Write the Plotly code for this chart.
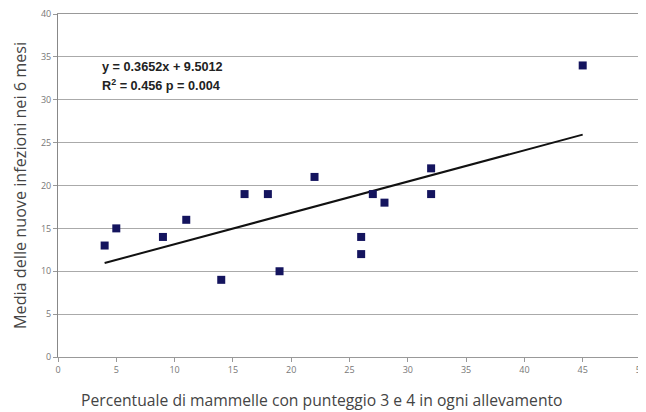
import plotly.graph_objects as go

x_vals = [4, 5, 9, 11, 14, 16, 18, 19, 22, 26, 26, 27, 28, 32, 32, 45]
y_vals = [13, 15, 14, 16, 9, 19, 19, 10, 21, 14, 12, 19, 18, 22, 19, 34]
slope = 0.3652
intercept = 9.5012
trend_x = [4, 45]
trend_y = [slope * v + intercept for v in trend_x]
x_ticks = [0, 5, 10, 15, 20, 25, 30, 35, 40, 45, 50]
y_ticks = [0, 5, 10, 15, 20, 25, 30, 35, 40]

fig = go.Figure()
fig.add_trace(go.Scatter(x=trend_x, y=trend_y, mode="lines",
                         line=dict(color="#111111", width=2), showlegend=False))
fig.add_trace(go.Scatter(x=x_vals, y=y_vals, mode="markers",
                         marker=dict(symbol="square", size=8, color="#14145e"),
                         showlegend=False))

fig.add_annotation(x=0.072, y=0.846, xref="paper", yref="paper", xanchor="left", yanchor="middle",
                   text="<b>y = 0.3652x + 9.5012</b>", showarrow=False,
                   font=dict(family="Liberation Sans", size=12.7, color="#222222"))
fig.add_annotation(x=0.072, y=0.794, xref="paper", yref="paper", xanchor="left", yanchor="middle",
                   text="<b>R<sup>2</sup> = 0.456 p = 0.004</b>", showarrow=False,
                   font=dict(family="Liberation Sans", size=12.7, color="#222222"))
fig.add_annotation(x=0.453, y=-0.125, xref="paper", yref="paper", xanchor="center", yanchor="middle",
                   text="Percentuale di mammelle con punteggio 3 e 4 in ogni allevamento",
                   showarrow=False, font=dict(family="Open Sans", size=15.7, color="#444444"))
fig.add_annotation(x=-0.066, y=0.5, xref="paper", yref="paper", xanchor="center", yanchor="middle",
                   text="Media delle nuove infezioni nei 6 mesi", textangle=-90,
                   showarrow=False, font=dict(family="Open Sans", size=16.2, color="#444444"))

fig.update_layout(
    width=646, height=412,
    margin=dict(l=50, r=13, t=6, b=63),
    paper_bgcolor="white", plot_bgcolor="white",
    font=dict(family="Open Sans", color="#444444"),
    xaxis=dict(range=[0, 50], tickvals=x_ticks, ticks="outside", ticklen=4,
               tickcolor="#999999", showgrid=False, showline=True, linecolor="#999999",
               linewidth=1, mirror=True, zeroline=False, automargin=False,
               ticklabeloverflow="allow",
               tickfont=dict(size=9, color="#777777")),
    yaxis=dict(range=[0, 40], tickvals=y_ticks, ticks="outside", ticklen=4,
               tickcolor="#999999", showgrid=True, gridcolor="#aaaaaa", gridwidth=1,
               showline=True, linecolor="#888888", linewidth=1, mirror=True, zeroline=False,
               automargin=False, ticklabeloverflow="allow",
               tickfont=dict(size=9, color="#777777")),
)

fig.write_html("out.html")
